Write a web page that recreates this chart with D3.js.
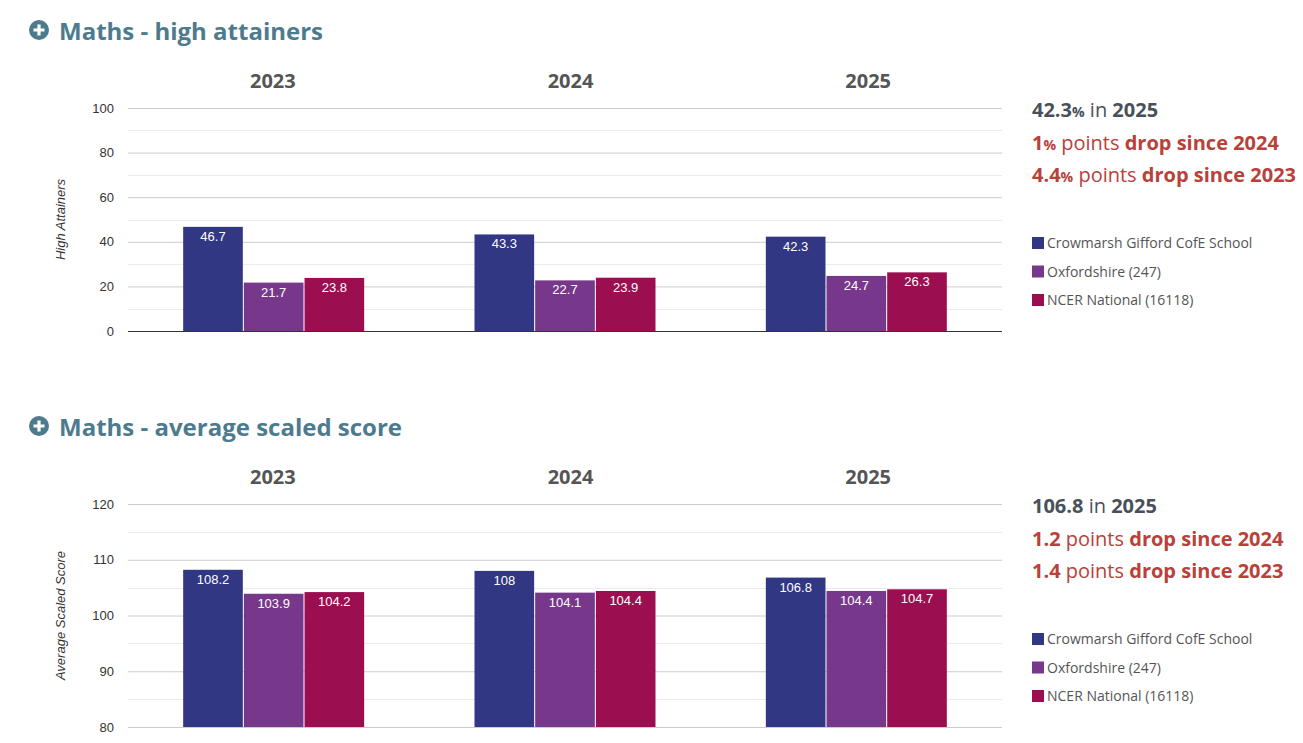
<!DOCTYPE html>
<html>
<head>
<meta charset="utf-8">
<script src="https://cdn.jsdelivr.net/npm/d3@7"></script>
<style>
 body { margin: 0; background: #fff; }
 svg { display: block; }
 .title { font-family: "Open Sans", sans-serif; font-weight: 700; font-size: 24px; fill: #4d7b8e; }
 .year { font-family: "Open Sans", sans-serif; font-weight: 700; font-size: 20px; fill: #555; }
 .tick text { font-family: "Liberation Sans", Arial, sans-serif; font-size: 13px; fill: #333; }
 .ytitle { font-family: "Liberation Sans", Arial, sans-serif; font-style: italic; font-size: 13px; fill: #333; }
 .val { font-family: "Liberation Sans", Arial, sans-serif; font-size: 13px; fill: #fff; }
 .stat { font-family: "Open Sans", sans-serif; font-size: 20px; }
 .legend { font-family: "Open Sans", sans-serif; font-size: 14px; fill: #555; }
</style>
</head>
<body>
<div id="chart"></div>
<script>
// categories and series
var years = ["2023", "2024", "2025"];
var seriesNames = ["Crowmarsh Gifford CofE School", "Oxfordshire (247)", "NCER National (16118)"];
var seriesColors = ["#313783", "#77378a", "#9b0e4f"];

// Maths - high attainers (%)
var highSchool = [46.7, 43.3, 42.3];
var highOxon = [21.7, 22.7, 24.7];
var highNational = [23.8, 23.9, 26.3];
var highTicks = [0, 20, 40, 60, 80, 100];

// Maths - average scaled score
var scoreSchool = [108.2, 108, 106.8];
var scoreOxon = [103.9, 104.1, 104.4];
var scoreNational = [104.2, 104.4, 104.7];
var scoreTicks = [80, 90, 100, 110, 120];

var width = 1303, height = 743;
var svg = d3.select("#chart").append("svg")
    .attr("width", width)
    .attr("height", height);

function drawPanel(top, title, yTitle, yTitleSize, series, ticks, dark, stats) {
  var g = svg.append("g").attr("transform", "translate(0," + top + ")");
  var left = 128, right = 1002, y0 = 108, y1 = 331;

  // heading with plus icon
  g.append("circle").attr("cx", 39).attr("cy", 30).attr("r", 10).attr("fill", "#4d7b8e");
  g.append("path").attr("d", "M33.5,30H44.5M39,24.5V35.5").attr("stroke", "#fff").attr("stroke-width", 3.2);
  g.append("text").attr("class", "title").attr("x", 59).attr("y", 40).text(title);

  var x = d3.scaleBand().domain(years).range([left, right]);
  var x1 = d3.scaleBand().domain(d3.range(series.length)).range([0, 181]).paddingInner(0.017);
  var y = d3.scaleLinear().domain(d3.extent(ticks)).range([y1, y0]);

  // year labels
  var xl = d3.scaleBand().domain(years).range([124, 1017]);
  g.selectAll(".year").data(years).enter().append("text")
    .attr("class", "year")
    .attr("x", function(d) { return xl(d) + xl.bandwidth() / 2; })
    .attr("y", 88)
    .attr("text-anchor", "middle")
    .text(function(d) { return d; });

  // minor gridlines
  var step = ticks[1] - ticks[0];
  var minor = ticks.slice(1).map(function(t) { return t - step / 2; });
  g.selectAll(".minor").data(minor).enter().append("line")
    .attr("x1", left).attr("x2", right)
    .attr("y1", function(d) { return Math.round(y(d)) + 0.5; })
    .attr("y2", function(d) { return Math.round(y(d)) + 0.5; })
    .attr("stroke", "#ebebeb");

  // y axis with gridlines
  var yAxis = g.append("g").attr("transform", "translate(" + left + ",0)")
    .call(d3.axisLeft(y).tickValues(ticks).tickSize(-(right - left)).tickPadding(14));
  yAxis.select(".domain").remove();
  yAxis.selectAll(".tick line").attr("stroke", "#ccc");
  if (dark) {
    yAxis.selectAll(".tick").filter(function(d) { return d === ticks[0]; })
      .select("line").attr("stroke", "#333");
  }

  g.append("text").attr("class", "ytitle")
    .attr("transform", "translate(65," + ((y0 + y1) / 2) + ") rotate(-90)")
    .attr("text-anchor", "middle")
    .attr("font-size", yTitleSize)
    .text(yTitle);

  // bars
  var groups = g.selectAll(".grp").data(years).enter().append("g")
    .attr("transform", function(d) { return "translate(" + (x(d) + (x.bandwidth() - 181) / 2) + ",0)"; });
  groups.each(function(yr, i) {
    var gg = d3.select(this);
    series.forEach(function(s, k) {
      var v = s[i];
      gg.append("rect")
        .attr("x", x1(k)).attr("width", x1.bandwidth())
        .attr("y", y(v)).attr("height", y1 - y(v))
        .attr("fill", seriesColors[k]);
      gg.append("text").attr("class", "val")
        .attr("x", x1(k) + x1.bandwidth() / 2)
        .attr("y", y(v) + 14)
        .attr("text-anchor", "middle")
        .text(v);
    });
  });

  // summary text
  stats.forEach(function(line, i) {
    var t = g.append("text").attr("class", "stat")
      .attr("x", 1032).attr("y", 117 + i * 32.5)
      .attr("fill", i === 0 ? "#48505a" : "#b9413a");
    line.forEach(function(p) {
      t.append("tspan").attr("font-weight", p[1] ? 700 : 400)
        .attr("font-size", p[2] ? p[2] : null)
        .text(p[0]);
    });
  });

  // legend
  seriesNames.forEach(function(n, k) {
    var ly = 243 + k * 28.5;
    g.append("rect").attr("x", 1032).attr("y", ly - 6).attr("width", 12).attr("height", 12)
      .attr("fill", seriesColors[k]);
    g.append("text").attr("class", "legend").attr("x", 1047).attr("y", ly + 5).text(n);
  });
}

drawPanel(0, "Maths - high attainers", "High Attainers", "13.5px",
  [highSchool, highOxon, highNational], highTicks, true, [
    [["42.3", true], ["%", true, "14px"], [" in ", false], ["2025", true]],
    [["1", true], ["%", true, "14px"], [" points ", false], ["drop since 2024", true]],
    [["4.4", true], ["%", true, "14px"], [" points ", false], ["drop since 2023", true]]
  ]);

drawPanel(396, "Maths - average scaled score", "Average Scaled Score", "13.5px",
  [scoreSchool, scoreOxon, scoreNational], scoreTicks, false, [
    [["106.8", true], [" in ", false], ["2025", true]],
    [["1.2", true], [" points ", false], ["drop since 2024", true]],
    [["1.4", true], [" points ", false], ["drop since 2023", true]]
  ]);
</script>
</body>
</html>
